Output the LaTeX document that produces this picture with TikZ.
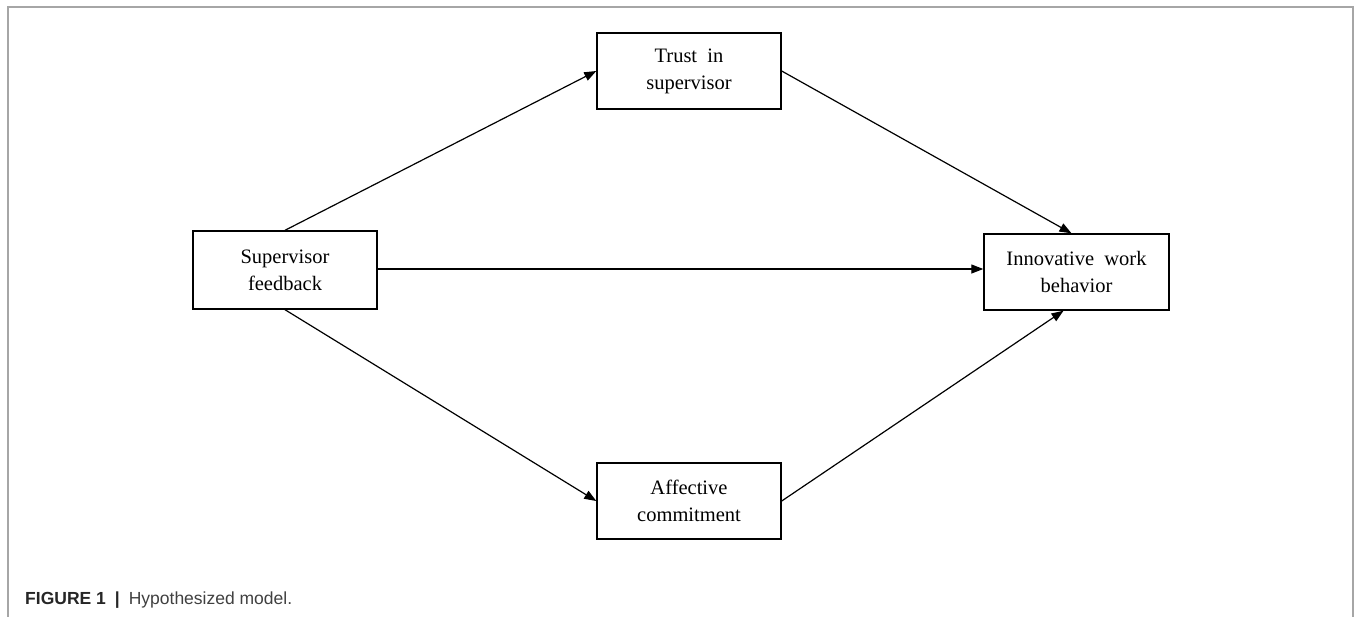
\documentclass[tikz,border=0pt]{standalone}
\usepackage{fontspec}
\setmainfont{Liberation Serif}
\newfontfamily\capfont{Liberation Sans}
\usetikzlibrary{arrows.meta,calc}
\begin{document}
\begin{tikzpicture}[x=1pt,y=-1pt,
  boxnode/.style={draw, line width=1.4pt, inner sep=0pt, align=center,
    font=\fontsize{20.5}{27}\selectfont},
  conn/.style={line width=1.2pt, -{Triangle[length=12pt,width=9pt]}}]
\useasboundingbox (0,0) rectangle (1356,616);
\draw[gray!70, line width=1.6pt] (8,617) -- (8,7) -- (1353,7) -- (1353,617);
\node[boxnode, minimum width=184pt, minimum height=76pt] (trust) at (689,71) {Trust\ \ in\\supervisor};
\node[boxnode, minimum width=184pt, minimum height=78pt] (sf) at (285,270) {Supervisor\\feedback};
\node[boxnode, minimum width=185pt, minimum height=76pt] (iwb) at (1076.5,272) {Innovative\ \ work\\behavior};
\node[boxnode, minimum width=184pt, minimum height=76pt] (ac) at (689,501) {Affective\\commitment};
\node[anchor=west, inner sep=0pt, font=\capfont\fontsize{17.5}{20}\selectfont] (cap) at (25,600)
  {\textcolor{black!85}{\textbf{FIGURE 1}\hspace{9pt}\textbf{|}\hspace{9pt}}\textcolor{black!75}{Hypothesized model.}};
\draw[conn] (sf.north) -- (trust.west);
\draw[conn] (trust.east) -- ($(iwb.north)+(-5,0)$);
\draw[conn] ($(sf.east)+(0,-1)$) -- ($(iwb.west)+(0,-3)$);
\draw[conn] (sf.south) -- (ac.west);
\draw[conn] (ac.east) -- ($(iwb.south)+(-13,0)$);
\end{tikzpicture}
\end{document}
